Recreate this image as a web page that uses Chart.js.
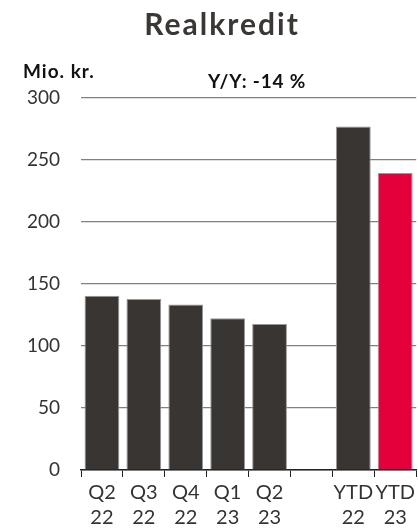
<!DOCTYPE html>
<html>
<head>
<meta charset="utf-8">
<script src="https://cdn.jsdelivr.net/npm/chart.js@4/dist/chart.umd.min.js"></script>
<style>
  html, body { margin: 0; padding: 0; background: #fff; }
  #wrap { width: 418px; height: 532px; position: relative; }
</style>
</head>
<body>
<div id="wrap"><canvas id="chart"></canvas></div>
<script>
const labels = [['Q2','22'],['Q3','22'],['Q4','22'],['Q1','23'],['Q2','23'],'',['YTD','22'],['YTD','23']];
const values = [140.5, 138, 133.5, 122.3, 117.7, null, 277, 239.5];
const barColors = ['#383532','#383532','#383532','#383532','#383532','#383532','#383532','#e4003b'];
const yTicks = [0, 50, 100, 150, 200, 250, 300];

const FONT = 'Lato, "DejaVu Sans", sans-serif';
const TEXT = '#333333';

// titles drawn on top of the canvas
const textPlugin = {
    id: 'texts',
    afterDraw(chart){
        const ctx = chart.ctx;
        ctx.save();
        ctx.fillStyle = '#3a3735';
        ctx.textBaseline = 'middle';
        ctx.textAlign = 'center';
        ctx.letterSpacing = '2px';
        ctx.font = 'bold 30px ' + FONT;
        ctx.fillText('Realkredit', 222, 25);
        ctx.fillStyle = '#111';
        ctx.textAlign = 'left';
        ctx.letterSpacing = '1px';
        ctx.font = 'bold 19px ' + FONT;
        ctx.fillText('Mio. kr.', 23, 72);
        ctx.textAlign = 'center';
        ctx.letterSpacing = '0.8px';
        ctx.fillText('Y/Y: -14 %', 257, 82);
        ctx.restore();
    }
};

const chart = document.querySelector('#chart').getContext('2d');
new Chart(chart, {
    type:'bar',
    data:{
        labels:labels,
        datasets:[
            {
                data:values,
                backgroundColor:barColors,
                borderColor:'#9a9896',
                borderWidth:1,
                borderSkipped:'bottom',
                barPercentage:0.83,
                categoryPercentage:1
            }
        ]
    },
    options:{
        responsive:true,
        maintainAspectRatio:false,
        animation:false,
        layout:{ padding:{ top:98, right:0, left:0, bottom:0 } },
        plugins:{
            legend:{ display:false },
            title:{ display:false },
            tooltip:{ enabled:false }
        },
        scales:{
            x:{
                grid:{ drawOnChartArea:false, drawTicks:true, tickLength:7, color:'#222', offset:true },
                border:{ display:true, color:'#222', width:1.5 },
                ticks:{ color:TEXT, font:{ family:FONT, size:20, lineHeight:1.25 }, maxRotation:0, autoSkip:false, padding:3 },
                afterFit(scale){ scale.height = 62; }
            },
            y:{
                min:0,
                max:300,
                afterBuildTicks(scale){ scale.ticks = yTicks.map(v => ({ value:v })); },
                grid:{ color:'#808080', lineWidth:1.2, drawTicks:false },
                border:{ display:false },
                ticks:{ color:TEXT, font:{ family:FONT, size:19 }, padding:21 },
                afterFit(scale){ scale.width = 81; }
            }
        }
    },
    plugins:[textPlugin]
})
</script>
</body>
</html>
